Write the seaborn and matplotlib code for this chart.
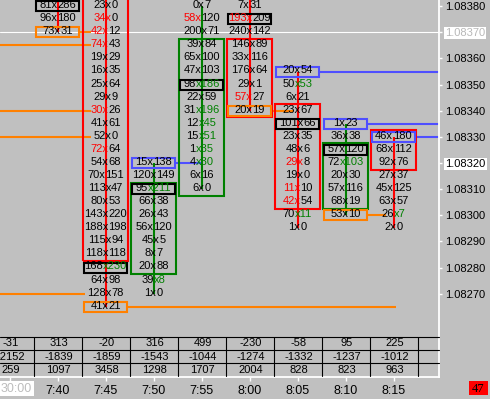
import matplotlib
matplotlib.use("Agg")
import matplotlib.pyplot as plt
import seaborn as sns
from matplotlib.patches import Rectangle
from matplotlib.offsetbox import TextArea, HPacker, AnnotationBbox
from matplotlib.transforms import blended_transform_factory

# ---------------- data ----------------
TICK = 0.00005
time_labels = ["", "7:40", "7:45", "7:50", "7:55", "8:00", "8:05", "8:10", "8:15"]
cursor_time = "30:00"
price_ticks = [1.08270, 1.08280, 1.08290, 1.08300, 1.08310, 1.08320,
               1.08330, 1.08340, 1.08350, 1.08360, 1.08370, 1.08380]
last_price = 1.08320
cross_price = 1.08370

# footprint cells per bar (column index, top price, bids, asks, red-bid rows, green-ask rows)
top_740, bid_740, ask_740 = 1.08380, [81, 96, 73], [286, 180, 31]
red_740, green_740 = [], []
top_745 = 1.08380
bid_745 = [23, 34, 42, 74, 19, 16, 25, 29, 30, 41, 52, 72, 54, 70, 113, 80, 143, 188, 115, 118, 168, 64, 128, 41]
ask_745 = [0, 0, 12, 43, 29, 35, 64, 9, 26, 61, 0, 64, 68, 151, 47, 53, 220, 198, 94, 118, 230, 98, 78, 21]
red_745, green_745 = [1, 2, 3, 8, 11], [20]
top_750 = 1.08320
bid_750 = [15, 120, 95, 66, 26, 56, 45, 8, 20, 39, 1]
ask_750 = [138, 149, 211, 38, 43, 120, 5, 7, 88, 8, 0]
red_750, green_750 = [], [2, 9]
top_755 = 1.08380
bid_755 = [0, 58, 200, 39, 65, 47, 98, 22, 31, 12, 15, 1, 4, 6, 6]
ask_755 = [7, 120, 71, 84, 100, 103, 186, 59, 196, 45, 51, 35, 30, 16, 0]
red_755, green_755 = [1], [6, 8, 9, 10, 11, 12]
top_800 = 1.08380
bid_800 = [7, 193, 240, 146, 33, 176, 29, 57, 20]
ask_800 = [31, 209, 142, 89, 116, 64, 1, 27, 19]
red_800, green_800 = [1, 7], []
top_805 = 1.08355
bid_805 = [20, 50, 6, 23, 101, 23, 48, 29, 19, 11, 42, 70, 1]
ask_805 = [54, 53, 21, 67, 66, 35, 6, 8, 0, 10, 54, 11, 0]
red_805, green_805 = [7, 9, 10], [1, 11]
top_810 = 1.08335
bid_810 = [1, 36, 57, 72, 20, 57, 68, 53]
ask_810 = [23, 38, 120, 103, 30, 116, 19, 10]
red_810, green_810 = [], [3]
top_815 = 1.08330
bid_815 = [46, 68, 92, 27, 45, 63, 26, 2]
ask_815 = [180, 112, 76, 37, 125, 57, 7, 0]
red_815, green_815 = [], [6]

# candle bodies: column, body top, body bottom, colour
body_cols = [2, 3, 4, 5, 6, 7, 8]
body_tops = [1.08400, 1.08310, 1.08365, 1.08365, 1.08340, 1.08325, 1.08330]
body_bottoms = [1.08285, 1.08280, 1.08310, 1.08340, 1.08305, 1.08305, 1.08320]
body_colors = ["red", "green", "green", "red", "red", "green", "red"]
# wicks: column, high, low
wick_cols = [1, 2, 3, 4, 5, 6, 7, 8]
wick_highs = [1.08400, 1.08400, 1.08320, 1.08380, 1.08400, 1.08355, 1.08335, 1.08330]
wick_lows = [1.08370, 1.08265, 1.08270, 1.08310, 1.08340, 1.08295, 1.08300, 1.08295]

# marked cells
poc_cols = [1, 2, 3, 4, 5, 6, 7]
poc_prices = [1.08380, 1.08280, 1.08310, 1.08350, 1.08375, 1.08335, 1.08325]
blue_cols = [3, 6, 7, 8]
blue_prices = [1.08320, 1.08355, 1.08335, 1.08330]
orange_cols = [1, 2, 5, 7]
orange_prices = [1.08370, 1.08265, 1.08340, 1.08300]

# level lines: price, start column, end column
blue_line_prices = [1.08320, 1.08355, 1.08335, 1.08330]
blue_line_start = [3.45, 6.45, 7.45, 8.45]
blue_line_end = [3.98, 9.5, 9.5, 9.5]
orange_line_prices = [1.08365, 1.08340, 1.08330, 1.08270, 1.08370, 1.08265, 1.08340, 1.08300]
orange_line_start = [-0.5, -0.5, -0.5, -0.5, 1.45, 2.45, 5.45, 7.45]
orange_line_end = [1.69, 1.69, 1.69, 1.58, 1.69, 8.06, 5.90, 7.85]

# bottom table
delta = [-31, 313, -20, 316, 499, -230, -58, 95, 225]
cum_delta = [-2152, -1839, -1859, -1543, -1044, -1274, -1332, -1237, -1012]
volume = [259, 1097, 3458, 1298, 1707, 2004, 828, 823, 963]

# ---------------- styling ----------------
BG = "#c0c0c0"
RED = "#ff0000"
GREEN = "#008000"
BLUE = "#4f4fff"
ORANGE = "#ff8000"
FONT = "Liberation Sans"
FS = 8

sns.set_theme(style="white", rc={"axes.facecolor": BG, "figure.facecolor": BG})
plt.rcParams["font.family"] = [FONT, "DejaVu Sans"]

W, H = 490, 399
fig = plt.figure(figsize=(W / 100, H / 100), dpi=100)
fig.patch.set_facecolor(BG)

PLOT_R, PLOT_B = 439, 377
ax = fig.add_axes([0, (H - PLOT_B) / H, PLOT_R / W, PLOT_B / H])
ax.set_facecolor(BG)
X0 = 9.5      # pixel of column 0 centre
CW = 48.0     # pixel per column
ax.set_xlim(-X0 / CW, (PLOT_R - X0) / CW)
Y0 = 6.2      # pixel of 1.08380
RH = 13.07    # pixel per tick
p_top = 1.08380 + Y0 / RH * TICK
p_bot = 1.08380 - (PLOT_B - Y0) / RH * TICK
ax.set_ylim(p_bot, p_top)

sns.despine(ax=ax, top=True, left=True, right=False, bottom=False)
for s in ["right", "bottom"]:
    ax.spines[s].set_color("white")
    ax.spines[s].set_linewidth(1.3)

# x axis ticks
ax.set_xticks(range(len(time_labels)), time_labels)
ax.tick_params(axis="x", colors="white", labelcolor="black", length=3, width=1,
               labelsize=9, pad=2.5, bottom=True)
# y axis on right
ax.yaxis.tick_right()
ax.set_yticks(price_ticks, [f"{p:.5f}" for p in price_ticks])
ax.tick_params(axis="y", colors="white", labelcolor="black", length=2.5, width=1,
               labelsize=FS, pad=2, right=True, left=False)
for lab, p in zip(ax.get_yticklabels(), price_ticks):
    if abs(p - cross_price) < 1e-9:
        lab.set_color("#b8b8b8")
        lab.set_bbox(dict(facecolor="white", edgecolor="none", pad=0.8))
    elif abs(p - last_price) < 1e-9:
        lab.set_bbox(dict(facecolor="white", edgecolor="none", pad=0.8))
ax.grid(False)

LW = 1.5
# white crosshair line
ax.axhline(cross_price, color="white", lw=0.8, zorder=1)

# level lines
for p, a, b in zip(blue_line_prices, blue_line_start, blue_line_end):
    ax.plot([a, b], [p, p], color=BLUE, lw=LW, zorder=2, solid_capstyle="butt")
for p, a, b in zip(orange_line_prices, orange_line_start, orange_line_end):
    ax.plot([a, b], [p, p], color=ORANGE, lw=LW, zorder=2, solid_capstyle="butt")

# wicks
for c, hi, lo in zip(wick_cols, wick_highs, wick_lows):
    i = body_cols.index(c) if c in body_cols else None
    col = body_colors[i] if i is not None else "red"
    ax.plot([c, c], [lo, hi], color=RED if col == "red" else GREEN, lw=LW, zorder=2,
            solid_capstyle="butt")

# bodies
BHW = 0.469
for c, t, b, col in zip(body_cols, body_tops, body_bottoms, body_colors):
    ax.add_patch(Rectangle((c - BHW, b - TICK / 2), 2 * BHW, t - b + TICK,
                           fill=False, edgecolor=RED if col == "red" else GREEN,
                           lw=LW, zorder=3))

# small marker boxes
SHW = 0.448
SHH = 5.0 / RH * TICK
def small_box(c, p, color):
    ax.add_patch(Rectangle((c - SHW, p - SHH), 2 * SHW, 2 * SHH, fill=False,
                           edgecolor=color, lw=LW, zorder=3.5))
for c, p in zip(poc_cols, poc_prices):
    small_box(c, p, "black")
for c, p in zip(blue_cols, blue_prices):
    small_box(c, p, BLUE)
for c, p in zip(orange_cols, orange_prices):
    small_box(c, p, ORANGE)

# cell texts
columns = [
    (1, top_740, bid_740, ask_740, red_740, green_740),
    (2, top_745, bid_745, ask_745, red_745, green_745),
    (3, top_750, bid_750, ask_750, red_750, green_750),
    (4, top_755, bid_755, ask_755, red_755, green_755),
    (5, top_800, bid_800, ask_800, red_800, green_800),
    (6, top_805, bid_805, ask_805, red_805, green_805),
    (7, top_810, bid_810, ask_810, red_810, green_810),
    (8, top_815, bid_815, ask_815, red_815, green_815),
]
YOFF = 0.8  # points, to visually centre digits
for c, top, bids, asks, reds, greens in columns:
    for r, (b, a) in enumerate(zip(bids, asks)):
        p = top - r * TICK
        if r in reds:
            left, lc = f"{b}x", RED
            right, rc = f"{a}", "black"
        elif r in greens:
            left, lc = f"{b}", "black"
            right, rc = f"x{a}", GREEN
        else:
            left, lc = f"{b}x", "black"
            right, rc = f"{a}", "black"
        ta1 = TextArea(left, textprops=dict(color=lc, fontsize=FS, family=FONT))
        ta2 = TextArea(right, textprops=dict(color=rc, fontsize=FS, family=FONT))
        pack = HPacker(children=[ta1, ta2], sep=0, pad=0, align="baseline")
        ab = AnnotationBbox(pack, (c, p), xybox=(0, YOFF), xycoords="data",
                            boxcoords="offset points", frameon=False, pad=0,
                            box_alignment=(0.5, 0.5), annotation_clip=False, zorder=5)
        ax.add_artist(ab)

# ---------------- overlay in pixel coords ----------------
pix = fig.add_axes([0, 0, 1, 1])
pix.set_xlim(0, W)
pix.set_ylim(H, 0)
pix.axis("off")
pix.patch.set_alpha(0)

# table
tr = blended_transform_factory(ax.transData, pix.transData)
row_lines = [337, 350, 363]
for y in row_lines:
    pix.plot([0, PLOT_R], [y, y], color="black", lw=0.8)
for i in range(len(delta)):
    xs = i + 0.5
    pix.plot([xs, xs], [337, 376], color="black", lw=0.8, transform=tr)
row_centers = [343.5, 356.5, 369.7]
for i, (d, cd, v) in enumerate(zip(delta, cum_delta, volume)):
    for y, val in zip(row_centers, (d, cd, v)):
        pix.text(i + 0.02, y, str(val), transform=tr, ha="center", va="center",
                 fontsize=FS, color="black", clip_on=True)

# cursor time label
pix.text(16.5, 388.5, cursor_time, ha="center", va="center", fontsize=9, color="#bdbdbd",
         bbox=dict(facecolor="white", edgecolor="none", pad=1.2))

# red counter box
pix.add_patch(Rectangle((469, 381), 19, 14, facecolor="#ff0000", edgecolor="none"))
pix.text(478.5, 388.5, "47", ha="center", va="center", fontsize=9, color="black",
         family=["Liberation Serif", "DejaVu Serif"])

fig.savefig("out.png", dpi=100, facecolor=BG)
